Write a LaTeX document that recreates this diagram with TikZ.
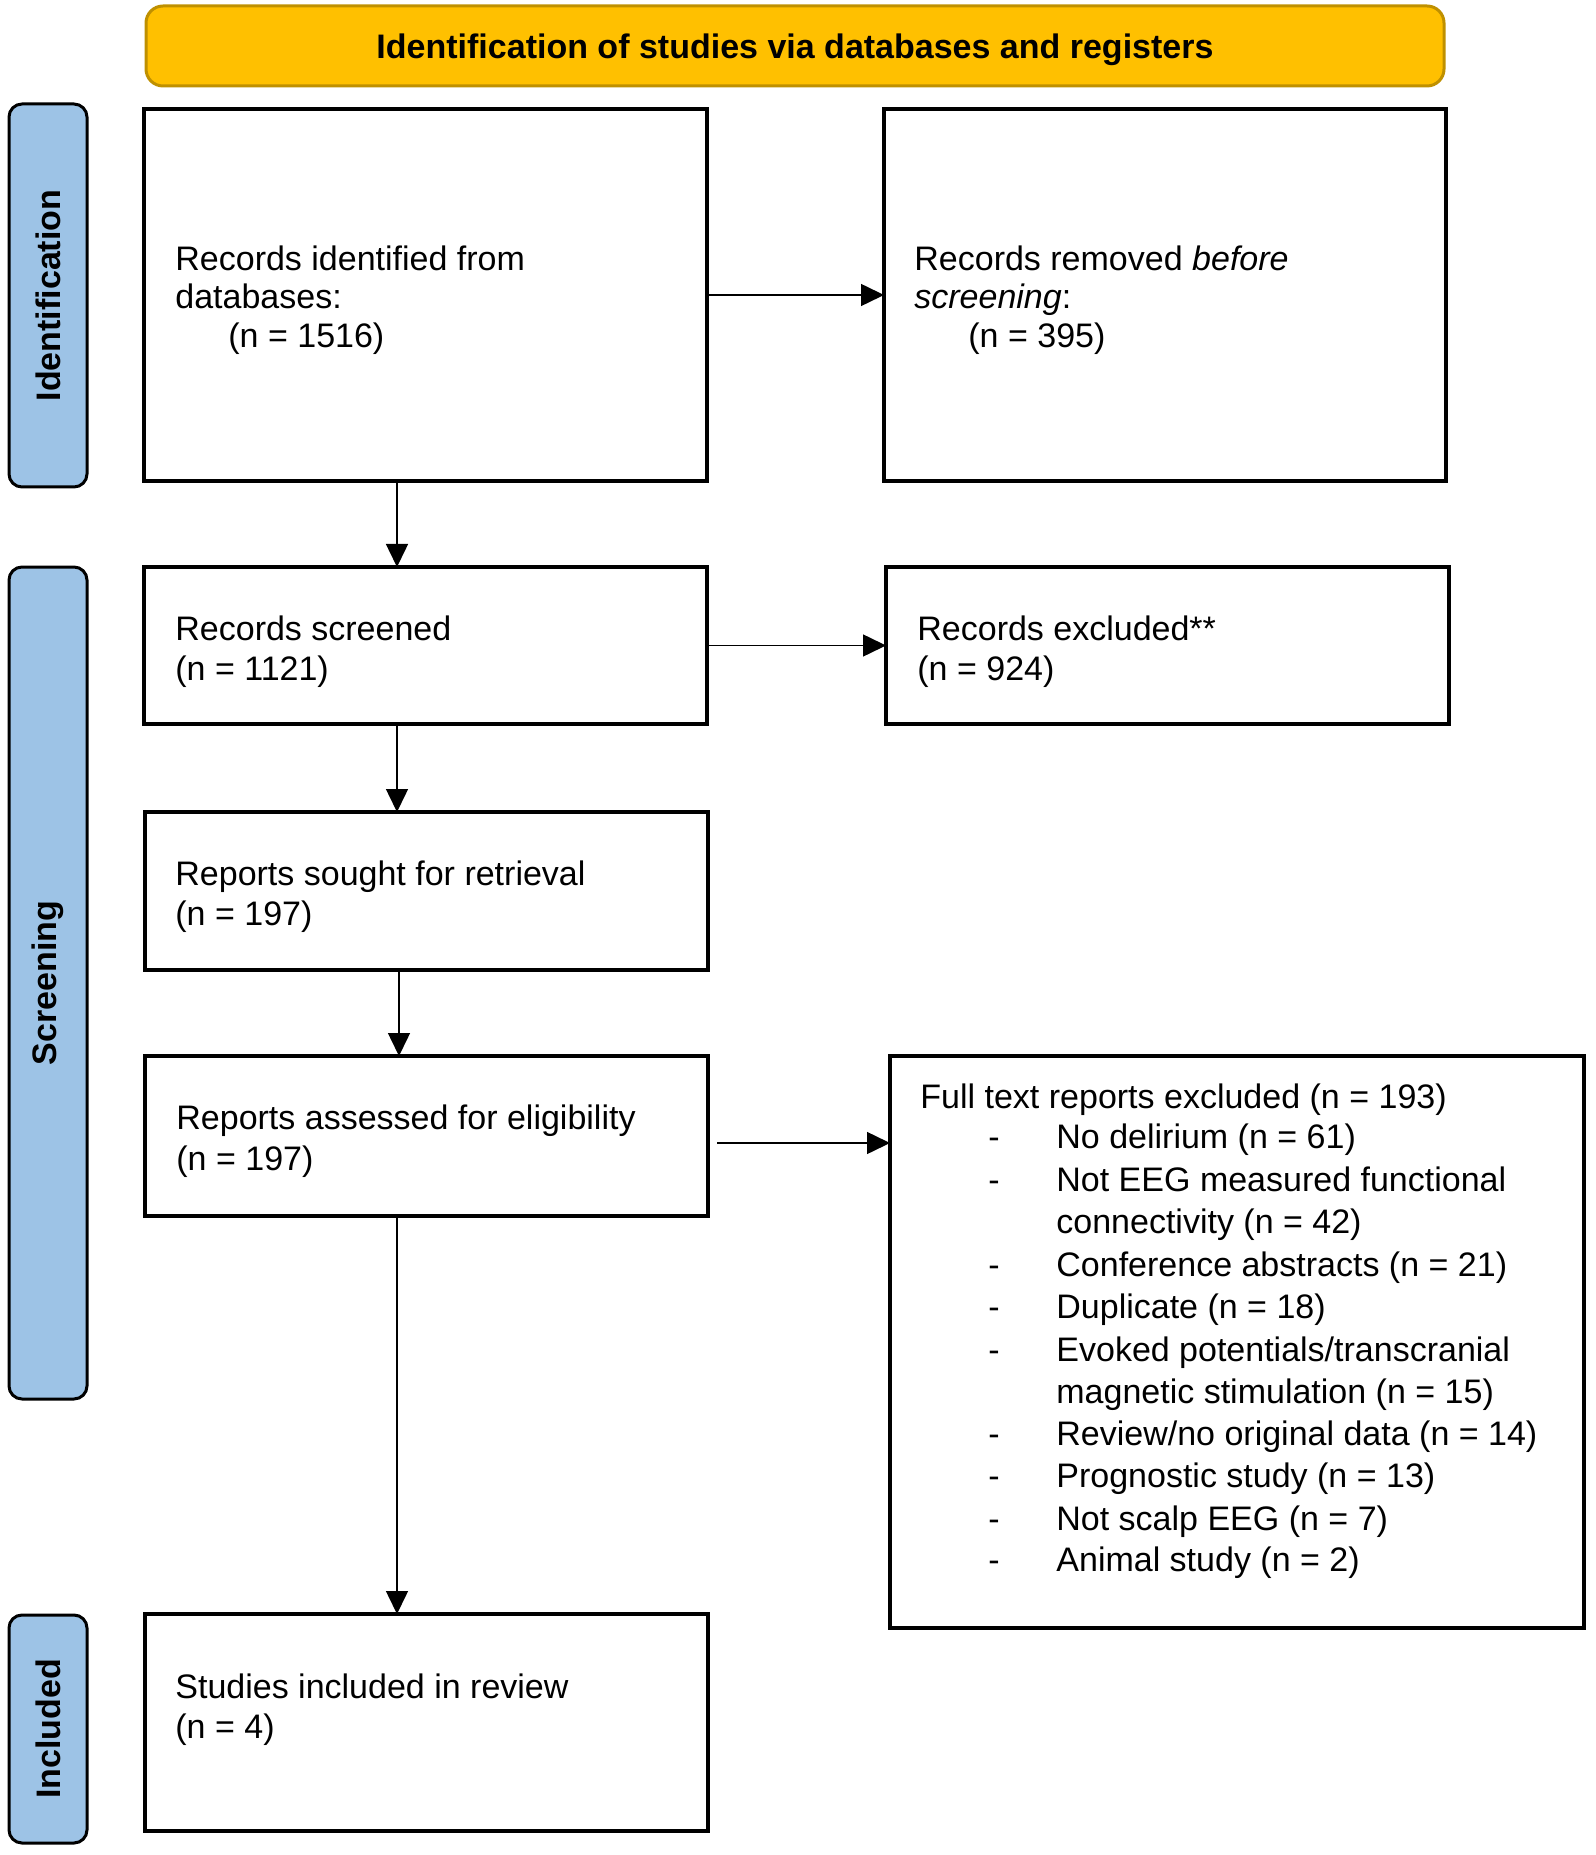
\documentclass[tikz,border=0pt]{standalone}
\usepackage{fontspec}
\setmainfont{Liberation Sans}
\usetikzlibrary{fit,arrows.meta}
\definecolor{bannerfill}{HTML}{FFC000}
\definecolor{bannerdraw}{HTML}{BF9000}
\definecolor{pillfill}{HTML}{9DC3E6}
\begin{document}
\begin{tikzpicture}[x=0.5pt,y=-0.5pt,
  box/.style={draw=black,line width=1.75pt,inner sep=0pt,outer sep=0pt},
  pill/.style={draw=black,line width=1.5pt,fill=pillfill,rounded corners=6.5pt,inner sep=0pt,outer sep=0pt},
  banner/.style={draw=bannerdraw,line width=1.5pt,fill=bannerfill,rounded corners=8.5pt,inner sep=0pt,outer sep=0pt},
  txt/.style={anchor=base west,inner sep=0pt,font=\fontsize{17pt}{20pt}\selectfont},
  btxt/.style={inner sep=0pt,font=\fontsize{17pt}{20pt}\selectfont\bfseries},
  arr/.style={line width=0.75pt,-{Triangle[length=11.5pt,width=11pt]}}]
\useasboundingbox (0,0) rectangle (1595,1855);
% banner
\node[banner,fit={(146,6) (1444,86)}] (ban) {};
\node[btxt] (bant) at (795,50) {Identification of studies via databases and registers};
% side pills
\node[pill,fit={(9,104) (87,487)}] (p1) {};
\node[btxt,rotate=90] (p1t) at (p1.center) {Identification};
\node[pill,fit={(9,567) (87,1399)}] (p2) {};
\node[btxt,rotate=90] (p2t) at (p2.center) {Screening};
\node[pill,fit={(9,1615) (87,1843)}] (p3) {};
\node[btxt,rotate=90] (p3t) at (p3.center) {Included};
% boxes
\node[box,fit={(144,109) (707,481)}] (b1) {};
\node[box,fit={(884,109) (1446,481)}] (b2) {};
\node[box,fit={(144,567) (707,724)}] (b3) {};
\node[box,fit={(886,567) (1449,724)}] (b4) {};
\node[box,fit={(145,812) (708,970)}] (b5) {};
\node[box,fit={(145,1056) (708,1216)}] (b6) {};
\node[box,fit={(890,1056) (1584,1628)}] (b7) {};
\node[box,fit={(145,1614) (708,1831)}] (b8) {};
% texts
\node[txt] (t1a) at (175,271) {Records identified from};
\node[txt] (t1b) at (175,309) {databases:};
\node[txt] (t1c) at (228,348) {(n = 1516)};
\node[txt] (t2a) at (914,271) {Records removed \textit{before}};
\node[txt] (t2b) at (914,309) {\textit{screening}:};
\node[txt] (t2c) at (968,348) {(n = 395)};
\node[txt] (t3a) at (175,640) {Records screened};
\node[txt] (t3b) at (175,680) {(n = 1121)};
\node[txt] (t4a) at (917,640) {Records excluded**};
\node[txt] (t4b) at (917,680) {(n = 924)};
\node[txt] (t5a) at (175,885) {Reports sought for retrieval};
\node[txt] (t5b) at (175,925) {(n = 197)};
\node[txt] (t6a) at (176,1129) {Reports assessed for eligibility};
\node[txt] (t6b) at (176,1170) {(n = 197)};
\node[txt] (t8a) at (175,1698) {Studies included in review};
\node[txt] (t8b) at (175,1738) {(n = 4)};
% full text exclusions
\node[txt] (t7h) at (920,1108) {Full text reports excluded (n = 193)};
\node[txt] (d1) at (988,1148) {-};
\node[txt] (e1) at (1056,1148) {No delirium (n = 61)};
\node[txt] (d2) at (988,1191) {-};
\node[txt] (e2) at (1056,1191) {Not EEG measured functional};
\node[txt] (e2b) at (1056,1233) {connectivity (n = 42)};
\node[txt] (d3) at (988,1276) {-};
\node[txt] (e3) at (1056,1276) {Conference abstracts (n = 21)};
\node[txt] (d4) at (988,1318) {-};
\node[txt] (e4) at (1056,1318) {Duplicate (n = 18)};
\node[txt] (d5) at (988,1361) {-};
\node[txt] (e5) at (1056,1361) {Evoked potentials/transcranial};
\node[txt] (e5b) at (1056,1403) {magnetic stimulation (n = 15)};
\node[txt] (d6) at (988,1445) {-};
\node[txt] (e6) at (1056,1445) {Review/no original data (n = 14)};
\node[txt] (d7) at (988,1487) {-};
\node[txt] (e7) at (1056,1487) {Prognostic study (n = 13)};
\node[txt] (d8) at (988,1530) {-};
\node[txt] (e8) at (1056,1530) {Not scalp EEG (n = 7)};
\node[txt] (d9) at (988,1571) {-};
\node[txt] (e9) at (1056,1571) {Animal study (n = 2)};
% connector helpers
\coordinate (xa) at (397,0);
\coordinate (xb) at (399,0);
\coordinate (s6) at (717,1143);
% connectors
\draw[arr] (b1.east) -- (b2.west);
\draw[arr] (b1.south -| xa) -- (b3.north -| xa);
\draw[arr] (b3.east) -- (b4.west);
\draw[arr] (b3.south -| xa) -- (b5.north -| xa);
\draw[arr] (b5.south -| xb) -- (b6.north -| xb);
\draw[arr] (s6) -- (s6 -| b7.west);
\draw[arr] (b6.south -| xa) -- (b8.north -| xa);
\end{tikzpicture}
\end{document}
